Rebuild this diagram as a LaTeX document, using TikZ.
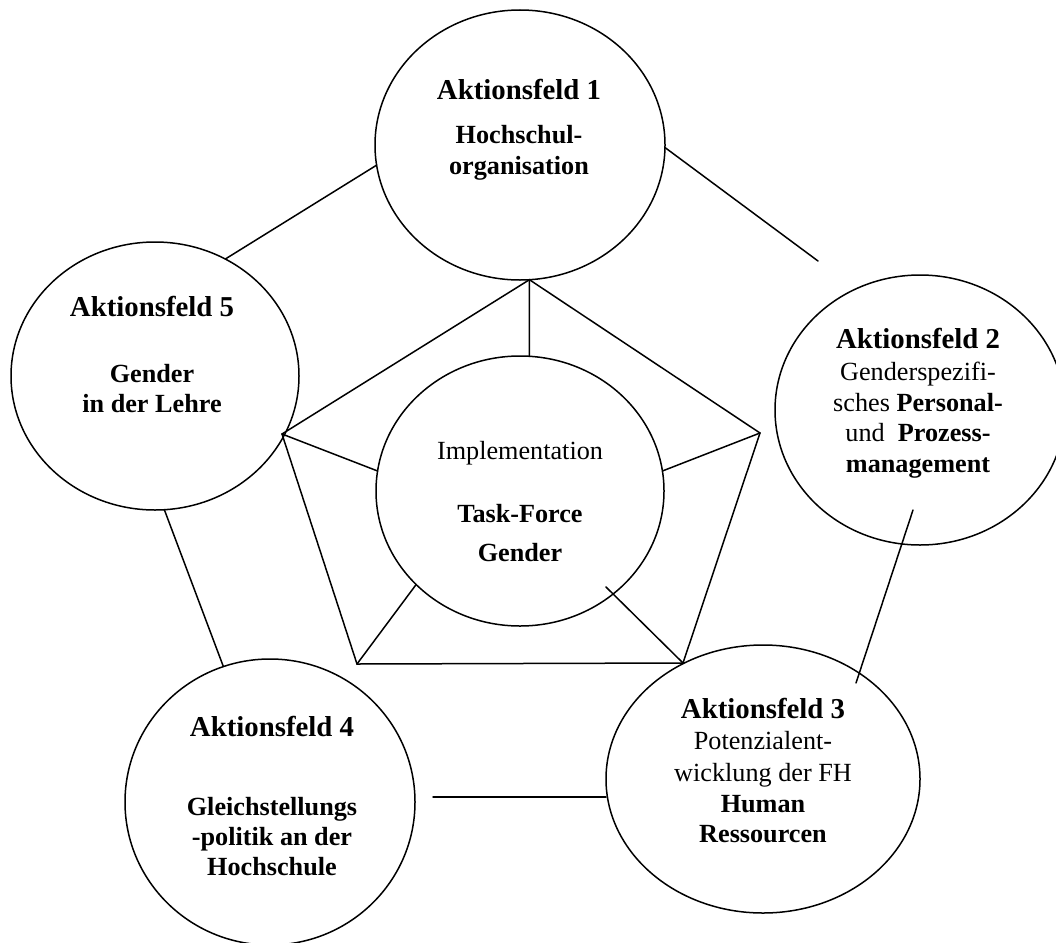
\documentclass[tikz,border=0pt]{standalone}
\usepackage{fontspec}
\setmainfont{Liberation Serif}
\usetikzlibrary{shapes.geometric}
\tikzset{
  ring/.style={draw, ellipse, line width=1.5pt, inner sep=0pt, outer sep=0pt},
  link/.style={line width=1.5pt, line cap=round},
  ttl/.style={anchor=base, inner sep=0pt, font=\fontsize{28.8}{30}\selectfont\bfseries},
  sub/.style={anchor=base, inner sep=0pt, font=\fontsize{26.2}{28}\selectfont},
  subb/.style={anchor=base, inner sep=0pt, font=\fontsize{26.2}{28}\selectfont\bfseries}
}
\begin{document}
\begin{tikzpicture}[x=1pt, y=-1pt]
\useasboundingbox (0,0) rectangle (1056,942);
\clip (0,0) rectangle (1056,942);
% circles
\node[ring, minimum width=290pt, minimum height=270pt] (c1) at (520,145) {};
\node[ring, minimum width=288pt, minimum height=270pt] (c0) at (520,491) {};
\node[ring, minimum width=288pt, minimum height=268pt] (c5) at (155,376) {};
\node[ring, minimum width=290pt, minimum height=270pt] (c2) at (920,410) {};
\node[ring, minimum width=314pt, minimum height=268pt] (c3) at (763,779) {};
\node[ring, minimum width=290pt, minimum height=286pt] (c4) at (270,802) {};
% pentagon vertices and free ends
\coordinate (p1) at (c1.-86);
\coordinate (p2) at (760,433);
\coordinate (p3) at (683,663);
\coordinate (p4) at (357,664);
\coordinate (p5) at (282,434);
\coordinate (q3) at (606,587);
\coordinate (e12) at (818,261);
\coordinate (s23) at (913,510);
\coordinate (e23) at (856,683);
\coordinate (s34) at (433,797);
% pentagon and spokes
\draw[link, line join=miter] (p1) -- (p2) -- (p3) -- (p4) -- (p5) -- cycle;
\draw[link] (p1) -- (c0.86);
\draw[link] (p5) -- (c0.172);
\draw[link] (p2) -- (c0.8);
\draw[link] (p4) -- (c0.222);
\draw[link] (p3) -- (q3);
% outer ring connectors
\draw[link] (c5.59) -- (c1.188);
\draw[link] (c1.-1) -- (e12);
\draw[link] (s23) -- (e23);
\draw[link] (s34) -- (s34 -| c3.west);
\draw[link] (c5.-86) -- (c4.109);
% texts circle 1
\node[ttl] (t1a) at (519,99) {Aktionsfeld 1};
\node[subb] (t1b) at (519,143) {Hochschul-};
\node[subb] (t1c) at (519,174) {organisation};
% circle 5
\node[ttl] (t5a) at (152,316) {Aktionsfeld 5};
\node[subb] (t5b) at (152,382) {Gender};
\node[subb] (t5c) at (152,412) {in der Lehre};
% circle 2
\node[ttl] (t2a) at (918,348) {Aktionsfeld 2};
\node[sub] (t2b) at (918,380) {Genderspezifi-};
\node[sub] (t2c) at (918,411) {sches \textbf{Personal-}};
\node[sub] (t2d) at (918,441) {und\ \ \textbf{Prozess-}};
\node[subb] (t2e) at (918,472) {management};
% centre
\node[sub] (t0a) at (520,459) {Implementation};
\node[subb] (t0b) at (520,522) {Task-Force};
\node[subb] (t0c) at (520,561) {Gender};
% circle 3
\node[ttl] (t3a) at (763,718) {Aktionsfeld 3};
\node[sub] (t3b) at (763,749) {Potenzialent-};
\node[sub] (t3c) at (763,781) {wicklung der FH};
\node[subb] (t3d) at (763,812) {Human};
\node[subb] (t3e) at (763,842) {Ressourcen};
% circle 4
\node[ttl] (t4a) at (272,736) {Aktionsfeld 4};
\node[subb] (t4b) at (272,815) {Gleichstellungs};
\node[subb] (t4c) at (272,845) {-politik an der};
\node[subb] (t4d) at (272,875) {Hochschule};
\end{tikzpicture}
\end{document}
